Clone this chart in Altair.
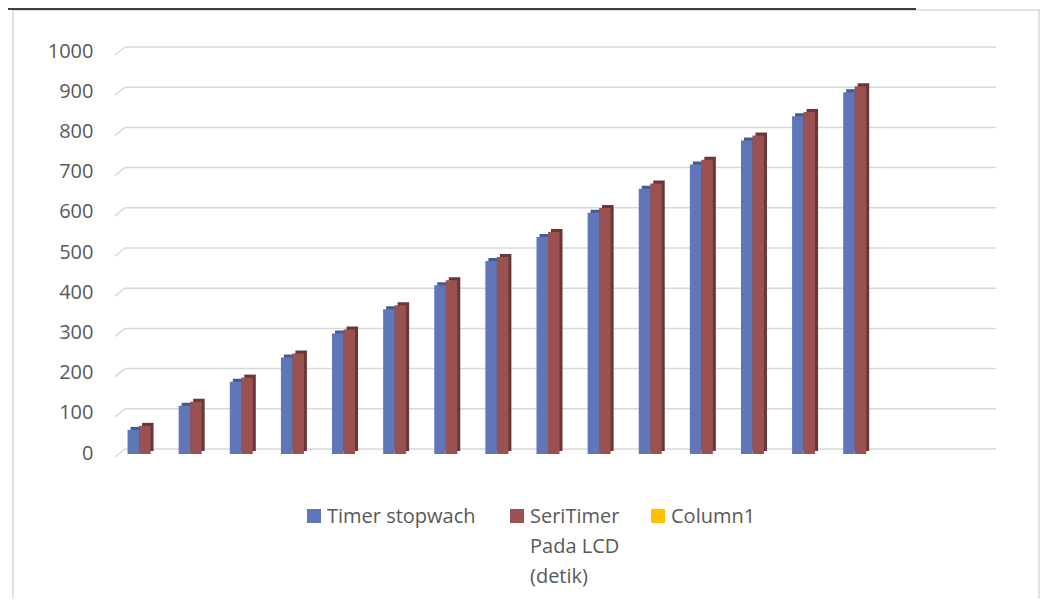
import altair as alt
import pandas as pd

# ---- data ----
categories = list(range(1, 18))  # 17 category slots, the last two are empty
timer_stopwach = [60, 120, 180, 240, 300, 360, 420, 480, 540, 600, 660, 720, 780, 840, 900]
seri_timer_lcd = [70, 130, 190, 250, 310, 370, 432, 490, 552, 612, 673, 732, 792, 851, 915]
series_names = ["Timer stopwach", "SeriTimer Pada LCD (detik)", "Column1"]
legend_texts = ["Timer stopwach", "SeriTimer\nPada LCD\n(detik)", "Column1"]
series_colors = ["#5F77B8", "#9A5151", "#FFC000"]
depth_colors = ["#435A93", "#6B3636", "#C09000"]
y_ticks = list(range(0, 1001, 100))

rows = []
for i, v in enumerate(timer_stopwach):
    rows.append({"cat": categories[i], "series": series_names[0], "value": v})
for i, v in enumerate(seri_timer_lcd):
    rows.append({"cat": categories[i], "series": series_names[1], "value": v})
df = pd.DataFrame(rows)
ticks_df = pd.DataFrame({"value": y_ticks})
one_df = pd.DataFrame({"a": [0]})

W, H = 871, 402
FONT = "Open Sans"
TEXT_COLOR = "#595959"
GRID_COLOR = "#D9D9D9"

x_enc = alt.X(
    "cat:O",
    scale=alt.Scale(domain=categories, range=[0, 846], paddingInner=0.53, paddingOuter=0.04),
    axis=None,
)
y_scale = alt.Scale(domain=[0, 1000], nice=False)
y_axis = alt.Axis(
    values=y_ticks,
    format="d",
    grid=False,
    domain=False,
    ticks=False,
    tickSize=0,
    labelPadding=32,
    labelFont=FONT,
    labelFontSize=20,
    labelColor=TEXT_COLOR,
    labelOffset=4,
    title=None,
)
y_enc = alt.Y("value:Q", scale=y_scale, axis=y_axis)

base = alt.Chart(df)

# 3D-ish depth (side/top) blocks
depth_blue = base.transform_filter(alt.datum.series == series_names[0]).mark_bar(
    size=11.5, xOffset=-5.75 + 3, yOffset=2, y2Offset=2, color=depth_colors[0]
).encode(x=x_enc, y=y_enc, y2=alt.datum(0))
depth_red = base.transform_filter(alt.datum.series == series_names[1]).mark_bar(
    size=11.5, xOffset=5.75 + 3, yOffset=2, y2Offset=2, color=depth_colors[1]
).encode(x=x_enc, y=y_enc, y2=alt.datum(0))

# front faces
face_blue = base.transform_filter(alt.datum.series == series_names[0]).mark_bar(
    size=11.5, xOffset=-5.75, yOffset=5, y2Offset=5, color=series_colors[0]
).encode(x=x_enc, y=y_enc, y2=alt.datum(0))
face_red = base.transform_filter(alt.datum.series == series_names[1]).mark_bar(
    size=11.5, xOffset=5.75, yOffset=5, y2Offset=5, color=series_colors[1]
).encode(x=x_enc, y=y_enc, y2=alt.datum(0))

# gridlines (back wall) and their left diagonal stubs
grid = alt.Chart(ticks_df).mark_rule(color=GRID_COLOR, strokeWidth=1.5).encode(
    x=alt.value(0), x2=alt.value(W),
    y=alt.Y("value:Q", scale=y_scale, axis=y_axis),
)
stubs = alt.Chart(ticks_df).mark_rule(color=GRID_COLOR, strokeWidth=1.5, yOffset=8, y2Offset=0).encode(
    x=alt.value(-10), x2=alt.value(0),
    y=alt.Y("value:Q", scale=y_scale, axis=y_axis), y2=alt.Y2("value:Q"),
)

# chart frame and the table line above it
frame = alt.Chart(one_df).mark_rect(fillOpacity=0, stroke=GRID_COLOR, strokeWidth=1.5).encode(
    x=alt.value(-112), x2=alt.value(914), y=alt.value(-37), y2=alt.value(700)
)
top_line = alt.Chart(one_df).mark_rule(color="black", strokeWidth=1.5).encode(
    x=alt.value(-117), x2=alt.value(791), y=alt.value(-38)
)

# legend (bottom, centred)
legend_layers = []
legend_sym_x = [189, 392, 533]
for i in range(3):
    legend_layers.append(
        alt.Chart(one_df).mark_square(size=196, color=series_colors[i], opacity=1).encode(
            x=alt.value(legend_sym_x[i]), y=alt.value(469)
        )
    )
    legend_layers.append(
        alt.Chart(one_df).mark_text(
            text=legend_texts[i], lineBreak="\n", lineHeight=30, align="left", baseline="alphabetic",
            font=FONT, fontSize=20, color=TEXT_COLOR,
        ).encode(x=alt.value(legend_sym_x[i] + 13), y=alt.value(476))
    )

chart = alt.layer(
    frame, top_line, grid, stubs, depth_blue, depth_red, face_blue, face_red, *legend_layers
).properties(
    width=W,
    height=H,
    autosize="none",
    padding={"left": 117, "top": 39, "right": 44, "bottom": 150},
).configure(
    background="white",
).configure_view(stroke=None)

chart.save("out.html", embed_options={"renderer": "svg", "actions": False})
